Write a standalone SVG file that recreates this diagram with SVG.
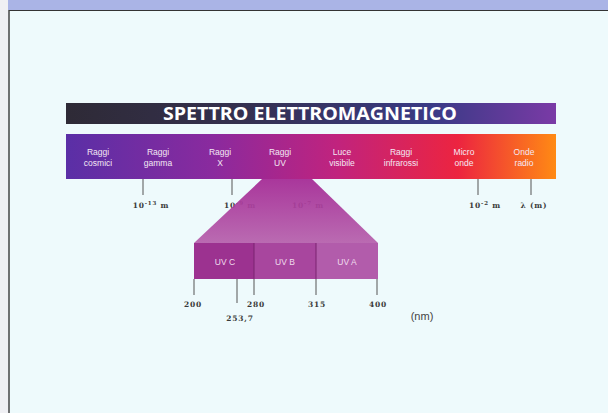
<svg xmlns="http://www.w3.org/2000/svg" width="608" height="413" viewBox="0 0 608 413">
<defs>
<linearGradient id="gTitle" x1="0" y1="0" x2="1" y2="0">
<stop offset="0" stop-color="#2e2a36"/>
<stop offset="0.35" stop-color="#34304e"/>
<stop offset="0.75" stop-color="#3a3a86"/>
<stop offset="1" stop-color="#7a3aa6"/>
</linearGradient>
<linearGradient id="gSpec" x1="0" y1="0" x2="1" y2="0">
<stop offset="0" stop-color="#5a2fa6"/>
<stop offset="0.3" stop-color="#8a2a9e"/>
<stop offset="0.55" stop-color="#c0237e"/>
<stop offset="0.8" stop-color="#ec2440"/>
<stop offset="1" stop-color="#ff8a14"/>
</linearGradient>
<linearGradient id="gTrap" x1="0" y1="0" x2="0" y2="1">
<stop offset="0" stop-color="#a42894"/>
<stop offset="1" stop-color="#b660ac"/>
</linearGradient>
<style>
.lbl{font-family:"Liberation Sans",Arial,sans-serif;font-size:8.5px;fill:#f4e8f4;text-anchor:middle}
.num{font-family:"DejaVu Serif","Liberation Serif",serif;font-size:7.5px;font-weight:bold;fill:#3a3a3a;text-anchor:middle;letter-spacing:0.8px}
.tick{stroke:#555;stroke-width:1}
.uv{font-family:"Liberation Sans",Arial,sans-serif;font-size:8.5px;fill:#f0dcee;text-anchor:middle}
</style>
</defs>
<rect x="0" y="0" width="608" height="413" fill="#eef3fa"/>
<rect x="0" y="0" width="608" height="10" fill="#aab4e6"/>
<rect x="0" y="0" width="8" height="413" fill="#f0f0f4"/>
<rect x="9" y="10" width="599" height="403" fill="#eefafc"/>
<line x1="9" y1="10.5" x2="608" y2="10.5" stroke="#333" stroke-width="1.2"/>
<line x1="9" y1="10" x2="9" y2="413" stroke="#444" stroke-width="1.5"/>

<g id="title">
<rect x="66" y="103" width="490" height="21" fill="url(#gTitle)"/>
<text x="163" y="120" font-family="'Open Sans','DejaVu Sans',sans-serif" font-size="17" font-weight="bold" fill="#fff" textLength="294" lengthAdjust="spacingAndGlyphs">SPETTRO ELETTROMAGNETICO</text>
</g>

<g id="spectrum">
<rect x="66" y="134" width="490" height="45" fill="url(#gSpec)"/>
<text class="lbl" x="98" y="155">Raggi</text><text class="lbl" x="98" y="166">cosmici</text>
<text class="lbl" x="158" y="155">Raggi</text><text class="lbl" x="158" y="166">gamma</text>
<text class="lbl" x="220" y="155">Raggi</text><text class="lbl" x="220" y="166">X</text>
<text class="lbl" x="280" y="155">Raggi</text><text class="lbl" x="280" y="166">UV</text>
<text class="lbl" x="342" y="155">Luce</text><text class="lbl" x="342" y="166">visibile</text>
<text class="lbl" x="401" y="155">Raggi</text><text class="lbl" x="401" y="166">infrarossi</text>
<text class="lbl" x="464" y="155">Micro</text><text class="lbl" x="464" y="166">onde</text>
<text class="lbl" x="524" y="155">Onde</text><text class="lbl" x="524" y="166">radio</text>
</g>

<g id="connectors">
<line class="tick" x1="143" y1="179" x2="143" y2="195"/>
<line class="tick" x1="232" y1="179" x2="232" y2="195"/>
<line class="tick" x1="478" y1="179" x2="478" y2="195"/>
<line class="tick" x1="531" y1="179" x2="531" y2="195"/>
<line class="tick" x1="194" y1="279" x2="194" y2="295"/>
<line class="tick" x1="237" y1="279" x2="237" y2="303"/>
<line class="tick" x1="254" y1="279" x2="254" y2="295"/>
<line class="tick" x1="316" y1="279" x2="316" y2="295"/>
<line class="tick" x1="377" y1="279" x2="377" y2="295"/>
</g>

<g id="scale-m">
<text class="num" x="151" y="208">10<tspan font-size="5.5" dy="-3">-13</tspan><tspan dy="3"> m</tspan></text>
<text class="num" x="240" y="208">10<tspan font-size="5.5" dy="-3">-9</tspan><tspan dy="3"> m</tspan></text>
<text class="num" x="308" y="208">10<tspan font-size="5.5" dy="-3">-7</tspan><tspan dy="3"> m</tspan></text>
<text class="num" x="485" y="208">10<tspan font-size="5.5" dy="-3">-2</tspan><tspan dy="3"> m</tspan></text>
<text class="num" x="534" y="208">λ (m)</text>
</g>

<g id="uv-zoom">
<polygon points="262,179 312,179 378,243 194,243" fill="url(#gTrap)" opacity="0.93"/>
</g>

<g id="uvc"><rect x="194" y="243" width="60" height="36" fill="#9c3290"/><text class="uv" x="225" y="265">UV C</text></g>
<g id="uvb"><rect x="254" y="243" width="62" height="36" fill="#a8469e"/><text class="uv" x="285" y="265">UV B</text></g>
<g id="uva"><rect x="316" y="243" width="62" height="36" fill="#b25cab"/><text class="uv" x="347" y="265">UV A</text></g>
<line x1="254" y1="243" x2="254" y2="279" stroke="#7a2270" stroke-width="1"/>
<line x1="316" y1="243" x2="316" y2="279" stroke="#7a2270" stroke-width="1"/>

<g id="scale-nm">
<text class="num" x="193" y="307">200</text>
<text class="num" x="256" y="307">280</text>
<text class="num" x="317" y="307">315</text>
<text class="num" x="378" y="307">400</text>
<text class="num" x="240" y="321">253,7</text>
<text x="422" y="320" font-family="'Liberation Sans',Arial,sans-serif" font-size="11" fill="#444" text-anchor="middle">(nm)</text>
</g>
</svg>
